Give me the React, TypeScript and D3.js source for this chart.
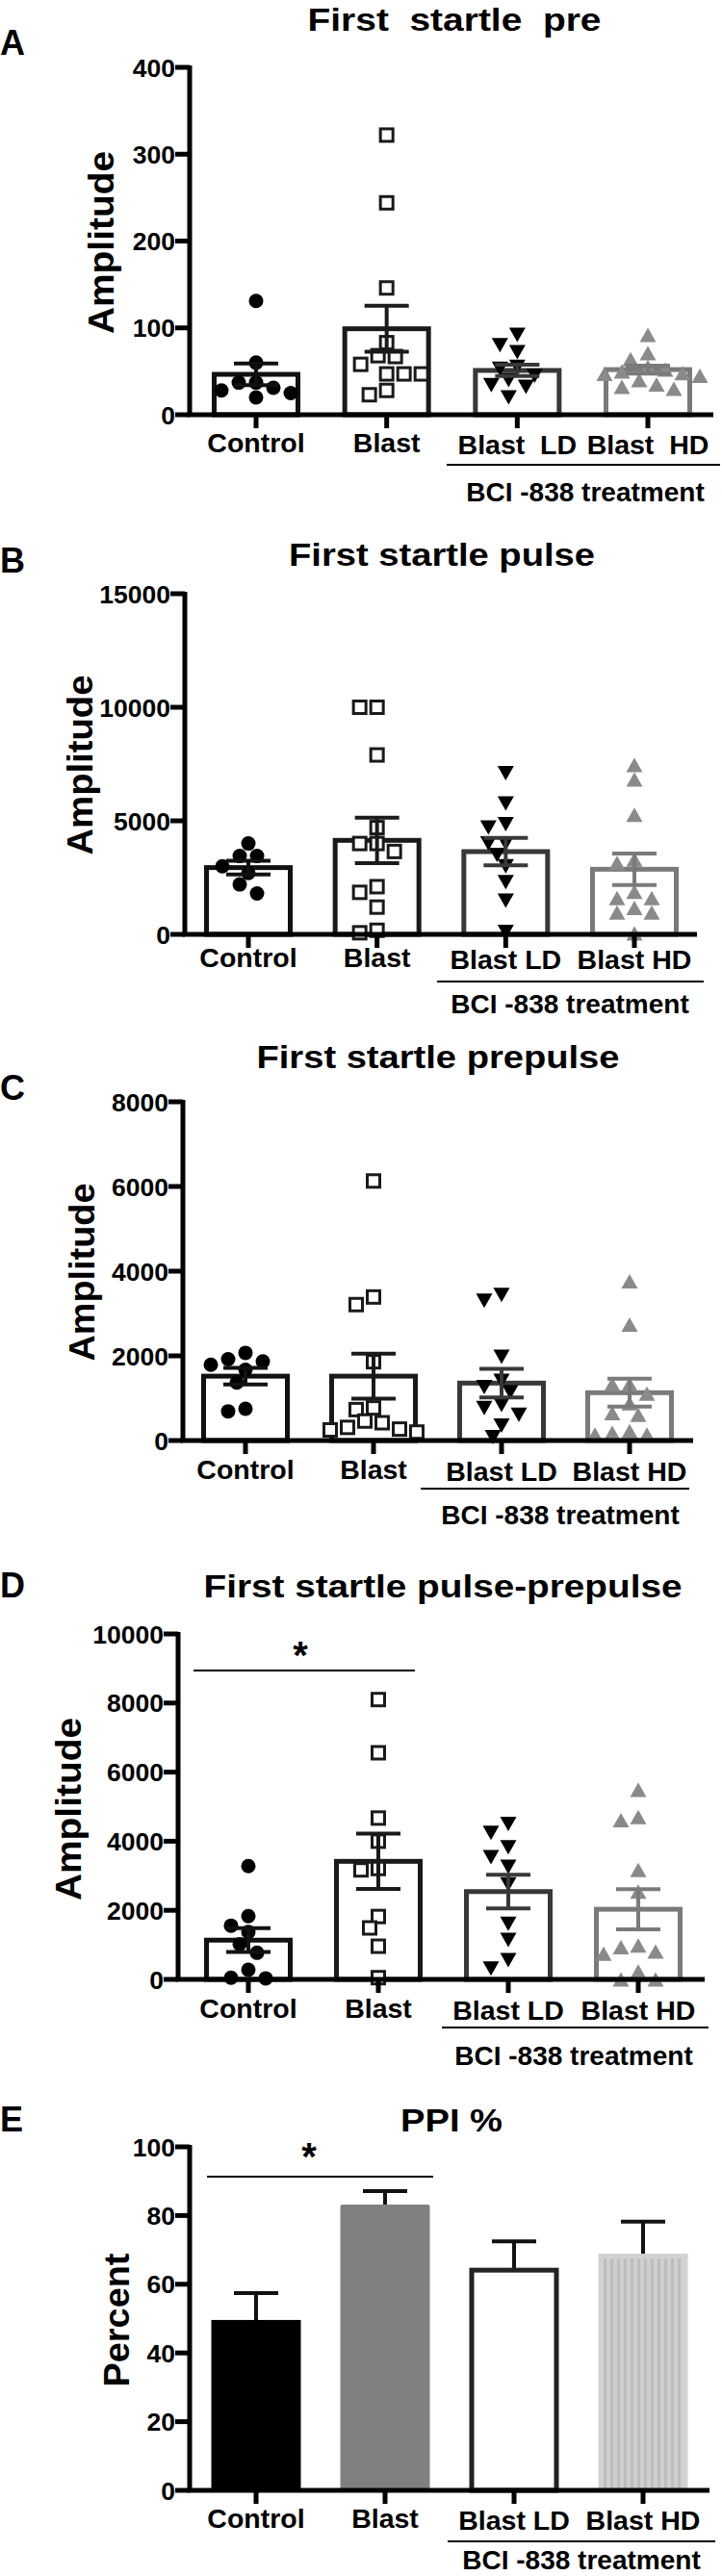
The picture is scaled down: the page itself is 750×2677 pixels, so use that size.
import React from "react";
import * as d3 from "d3";

const categories = ["Control", "Blast", "Blast LD", "Blast HD"];
const catLabelsA = ["Control", "Blast", "Blast  LD", "Blast  HD"];

// A - First startle pre
const preControl = [131, 60, 37, 31, 20, 25, 28, 37];
const preBlast = [322, 244, 146, 83, 68, 67, 58, 47, 47, 47, 28, 23];
const preLD = [92, 80, 72, 55, 53, 45, 40, 34, 32, 20];
const preHD = [92, 71, 64, 55, 52, 50, 48, 47, 45, 40, 35, 32, 30];
const preMean = [46.5, 99, 51, 52];
const preSem = [12.5, 26.5, 6.5, 4.5];
const preTicks = [0, 100, 200, 300, 400];

// B - First startle pulse
const pulseControl = [4000, 3450, 3450, 3000, 2700, 2200, 1800];
const pulseBlast = [10000, 10000, 7900, 4700, 4000, 4000, 3650, 2100, 1850, 1200, 180, 70];
const pulseLD = [7100, 5760, 4850, 4700, 4000, 4000, 3500, 3000, 2300, 1480, 110];
const pulseHD = [7460, 6820, 5270, 3290, 3150, 1880, 1600, 1600, 1170, 960, 960, 40];
const pulseMean = [2940, 4140, 3644, 2867];
const pulseSem = [303, 1003, 600, 692];
const pulseTicks = [0, 5000, 10000, 15000];

// C - First startle prepulse
const prepControl = [2070, 1920, 1870, 1790, 1670, 1370, 750, 690];
const prepBlast = [6130, 3390, 3210, 1860, 770, 730, 460, 420, 310, 270, 250, 200];
const prepLD = [3440, 3300, 1980, 1410, 1260, 1140, 840, 765, 610, 350, 80];
const prepHD = [3760, 2740, 1330, 1330, 1110, 880, 650, 610, 220, 180, 140, 140];
const prepMean = [1520, 1520, 1356, 1129];
const prepSem = [197, 530, 337, 330];
const prepTicks = [0, 2000, 4000, 6000, 8000];

// D - First startle pulse-prepulse
const diffControl = [3280, 1830, 1555, 1370, 1020, 770, 280, 50, 30];
const diffBlast = [8100, 6560, 4670, 4000, 3210, 3170, 1820, 1490, 960, 50];
const diffLD = [4500, 4240, 3820, 3540, 3260, 2750, 1610, 1145, 560, 310];
const diffHD = [5490, 4700, 4610, 3170, 2540, 980, 930, 810, 745, 230, 0, 0];
const diffMean = [1136, 3417, 2542, 2030];
const diffSem = [345, 800, 490, 582];
const diffTicks = [0, 2000, 4000, 6000, 8000, 10000];

// E - PPI %
const ppiMean = [49.6, 83.2, 64.1, 68.9];
const ppiSem = [7.8, 3.9, 8.4, 9.3];
const ppiTicks = [0, 20, 40, 60, 80, 100];

const FONT = "'Liberation Sans', Arial, sans-serif";
const groupColors = ["#111111", "#1a1a1a", "#383838", "#7a7a7a"];

type Layout = {
  letter: string;
  title: string;
  yLabel: string;
  axisX: number;
  yTop: number;
  yBase: number;
  x0: number;
  x1: number;
  xEnd: number;
  titleX: number;
  titleY: number;
  titleW: number;
  letterY: number;
  labelX: number;
  labelY: number;
  labelW: number;
  catY: number;
  bracketY: number;
  bracketX: [number, number];
  bciX: number;
  bciY: number;
  sig?: { y: number; x: [number, number]; starX: number; starY: number };
};

// simple beeswarm so overlapping points spread sideways
function swarm(values: number[], y: (v: number) => number, cx: number, size: number) {
  const placed: { x: number; y: number }[] = [];
  const order = values.map((_, i) => i).sort((a, b) => values[b] - values[a]);
  const out: { x: number; y: number }[] = new Array(values.length);
  for (const i of order) {
    const py = y(values[i]);
    let k = 0;
    let px = cx;
    while (k < 40) {
      const off = k === 0 ? 0 : Math.ceil(k / 2) * (k % 2 ? -1 : 1) * size * 0.6;
      px = cx + off;
      if (placed.every((p) => Math.hypot(p.x - px, p.y - py) >= size * 0.95)) break;
      k++;
    }
    placed.push({ x: px, y: py });
    out[i] = { x: px, y: py };
  }
  return out;
}

function Marker({ kind, x, y }: { kind: number; x: number; y: number }) {
  if (kind === 0) return <circle cx={x} cy={y} r={7.5} fill="#000" />;
  if (kind === 1)
    return (
      <rect x={x - 6.5} y={y - 6.5} width={13} height={13} fill="#fff" stroke="#1a1a1a" strokeWidth={3} />
    );
  if (kind === 2)
    return <path d={`M${x - 8.5},${y - 7.5}L${x + 8.5},${y - 7.5}L${x},${y + 7.5}Z`} fill="#000" />;
  return <path d={`M${x - 8.5},${y + 7.5}L${x + 8.5},${y + 7.5}L${x},${y - 7.5}Z`} fill="#8a8a8a" />;
}

function Frame({ L, ticks, labels, children }: { L: Layout; ticks: number[]; labels: string[]; children: any }) {
  const y = d3.scaleLinear().domain([ticks[0], ticks[ticks.length - 1]]).range([L.yBase, L.yTop]);
  const x = d3.scalePoint<string>().domain(categories).range([L.x0, L.x1]);
  return (
    <g fontFamily={FONT} fontWeight="bold" fill="#000">
      <text x={0} y={L.letterY} fontSize={36}>{L.letter}</text>
      <text x={L.titleX} y={L.titleY} fontSize={34} textAnchor="middle" textLength={L.titleW}
        lengthAdjust="spacingAndGlyphs" style={{ whiteSpace: "pre" }}>{L.title}</text>
      <text transform={`translate(${L.labelX},${L.labelY}) rotate(-90)`} fontSize={36} textAnchor="middle"
        textLength={L.labelW} lengthAdjust="spacingAndGlyphs">{L.yLabel}</text>
      {children(x, y)}
      <line x1={L.axisX} x2={L.axisX} y1={L.yTop - 2} y2={L.yBase} stroke="#000" strokeWidth={5} />
      <line x1={L.axisX - 2.5} x2={L.xEnd} y1={L.yBase} y2={L.yBase} stroke="#000" strokeWidth={5} />
      {ticks.map((t) => (
        <g key={t}>
          <line x1={L.axisX - 15} x2={L.axisX} y1={y(t)} y2={y(t)} stroke="#000" strokeWidth={5} />
          <text x={L.axisX - 15} y={y(t) + 9.5} fontSize={26.5} textAnchor="end">{t}</text>
        </g>
      ))}
      {categories.map((c, i) => (
        <g key={c}>
          <line x1={x(c)} x2={x(c)} y1={L.yBase} y2={L.yBase + 14} stroke="#000" strokeWidth={5} />
          <text x={x(c)} y={L.catY + (i > 1 ? 2 : 0)} fontSize={28.5} textAnchor="middle"
            style={{ whiteSpace: "pre" }}>{labels[i]}</text>
        </g>
      ))}
      <line x1={L.bracketX[0]} x2={L.bracketX[1]} y1={L.bracketY} y2={L.bracketY} stroke="#000" strokeWidth={2} />
      <text x={L.bciX} y={L.bciY} fontSize={28} textAnchor="middle">BCI -838 treatment</text>
      {L.sig && (
        <g>
          <line x1={L.sig.x[0]} x2={L.sig.x[1]} y1={L.sig.y} y2={L.sig.y} stroke="#000" strokeWidth={2} />
          <text x={L.sig.starX} y={L.sig.starY} fontSize={40} textAnchor="middle">*</text>
        </g>
      )}
    </g>
  );
}

function ScatterPanel({ L, ticks, groups, mean, sem, labels }: {
  L: Layout; ticks: number[]; groups: number[][]; mean: number[]; sem: number[]; labels: string[];
}) {
  return (
    <Frame L={L} ticks={ticks} labels={labels}>
      {(x: any, y: any) => {
        const bw = 87;
        return (
          <g>
            {categories.map((c, i) => (
              <rect key={"b" + c} x={x(c) - bw / 2} y={y(mean[i])} width={bw} height={L.yBase - y(mean[i])}
                fill="#fff" stroke={groupColors[i]} strokeWidth={5} />
            ))}
            {categories.map((c, i) =>
              swarm(groups[i], y, x(c), 15).map((p, j) => <Marker key={c + j} kind={i} x={p.x} y={p.y} />)
            )}
            {categories.map((c, i) => {
              const hi = y(mean[i] + sem[i]);
              const lo = y(mean[i] - sem[i]);
              const cx = x(c);
              return (
                <g key={"e" + c} stroke={groupColors[i]} strokeWidth={4}>
                  <line x1={cx} x2={cx} y1={hi} y2={lo} />
                  <line x1={cx - 23} x2={cx + 23} y1={hi} y2={hi} />
                  <line x1={cx - 23} x2={cx + 23} y1={lo} y2={lo} />
                </g>
              );
            })}
          </g>
        );
      }}
    </Frame>
  );
}

function PpiPanel({ L }: { L: Layout }) {
  const fills = ["#000000", "#808080", "#ffffff", "url(#stripes)"];
  return (
    <Frame L={L} ticks={ppiTicks} labels={categories}>
      {(x: any, y: any) => {
        const bw = 93;
        return (
          <g>
            {categories.map((c, i) => {
              const cx = x(c);
              const hi = y(ppiMean[i] + ppiSem[i]);
              return (
                <g key={c}>
                  <line x1={cx} x2={cx} y1={hi} y2={y(ppiMean[i]) + 8} stroke="#111" strokeWidth={4} />
                  <line x1={cx - 23} x2={cx + 23} y1={hi} y2={hi} stroke="#111" strokeWidth={4} />
                  {i === 2 ? (
                    <rect x={cx - bw / 2 + 2.5} y={y(ppiMean[i])} width={bw - 5} height={L.yBase - y(ppiMean[i])}
                      fill="#fff" stroke="#222" strokeWidth={5} />
                  ) : i === 3 ? (
                    <rect x={cx - bw / 2 + 2.5} y={y(ppiMean[i]) + 2.5} width={bw - 5}
                      height={L.yBase - y(ppiMean[i]) - 2.5} fill={fills[i]} stroke="#d2d2d2" strokeWidth={5} />
                  ) : (
                    <rect x={cx - bw / 2} y={y(ppiMean[i])} width={bw} height={L.yBase - y(ppiMean[i])}
                      fill={fills[i]} rx={i === 0 ? 0 : 2} />
                  )}
                </g>
              );
            })}
          </g>
        );
      }}
    </Frame>
  );
}

const layoutA: Layout = {
  letter: "A", title: "First  startle  pre", yLabel: "Amplitude",
  axisX: 197, yTop: 70, yBase: 431, x0: 266, x1: 673, xEnd: 741,
  titleX: 472, titleY: 32, titleW: 305, letterY: 57, labelX: 118, labelY: 252, labelW: 190,
  catY: 470, bracketY: 483, bracketX: [464, 748], bciX: 608, bciY: 521,
};
const layoutB: Layout = {
  letter: "B", title: "First startle pulse", yLabel: "Amplitude",
  axisX: 192, yTop: 617, yBase: 971, x0: 258, x1: 659, xEnd: 724,
  titleX: 459, titleY: 588, titleW: 318, letterY: 595, labelX: 96, labelY: 795, labelW: 187,
  catY: 1005, bracketY: 1020, bracketX: [454, 731], bciX: 592, bciY: 1053,
};
const layoutC: Layout = {
  letter: "C", title: "First startle prepulse", yLabel: "Amplitude",
  axisX: 190, yTop: 1145, yBase: 1497, x0: 255, x1: 654, xEnd: 720,
  titleX: 455, titleY: 1110, titleW: 377, letterY: 1143, labelX: 98, labelY: 1322, labelW: 185,
  catY: 1537, bracketY: 1547, bracketX: [437, 716], bciX: 582, bciY: 1584,
};
const layoutD: Layout = {
  letter: "D", title: "First startle pulse-prepulse", yLabel: "Amplitude",
  axisX: 185, yTop: 1698, yBase: 2057, x0: 258, x1: 663, xEnd: 732,
  titleX: 460, titleY: 1660, titleW: 497, letterY: 1660, labelX: 84, labelY: 1880, labelW: 190,
  catY: 2097, bracketY: 2107, bracketX: [459, 736], bciX: 596, bciY: 2146,
  sig: { y: 1736, x: [201, 431], starX: 312, starY: 1734 },
};
const layoutE: Layout = {
  letter: "E", title: "PPI %", yLabel: "Percent",
  axisX: 197, yTop: 2231, yBase: 2588, x0: 266, x1: 668, xEnd: 737,
  titleX: 469, titleY: 2215, titleW: 106, letterY: 2215, labelX: 134, labelY: 2411, labelW: 139,
  catY: 2627, bracketY: 2641, bracketX: [465, 743], bciX: 604, bciY: 2670,
  sig: { y: 2262, x: [215, 450], starX: 321, starY: 2255 },
};

export default function App() {
  return (
    <svg width={750} height={2677} style={{ position: "absolute", left: 0, top: 0, background: "#fff" }}>
      <defs>
        <pattern id="stripes" width={7} height={10} patternUnits="userSpaceOnUse">
          <rect width={7} height={10} fill="#cfcfcf" />
          <rect x={4} width={3} height={10} fill="#bdbdbd" />
        </pattern>
      </defs>
      <rect width={750} height={2677} fill="#fff" />
      <ScatterPanel L={layoutA} ticks={preTicks} groups={[preControl, preBlast, preLD, preHD]}
        mean={preMean} sem={preSem} labels={catLabelsA} />
      <ScatterPanel L={layoutB} ticks={pulseTicks} groups={[pulseControl, pulseBlast, pulseLD, pulseHD]}
        mean={pulseMean} sem={pulseSem} labels={categories} />
      <ScatterPanel L={layoutC} ticks={prepTicks} groups={[prepControl, prepBlast, prepLD, prepHD]}
        mean={prepMean} sem={prepSem} labels={categories} />
      <ScatterPanel L={layoutD} ticks={diffTicks} groups={[diffControl, diffBlast, diffLD, diffHD]}
        mean={diffMean} sem={diffSem} labels={categories} />
      <PpiPanel L={layoutE} />
    </svg>
  );
}
